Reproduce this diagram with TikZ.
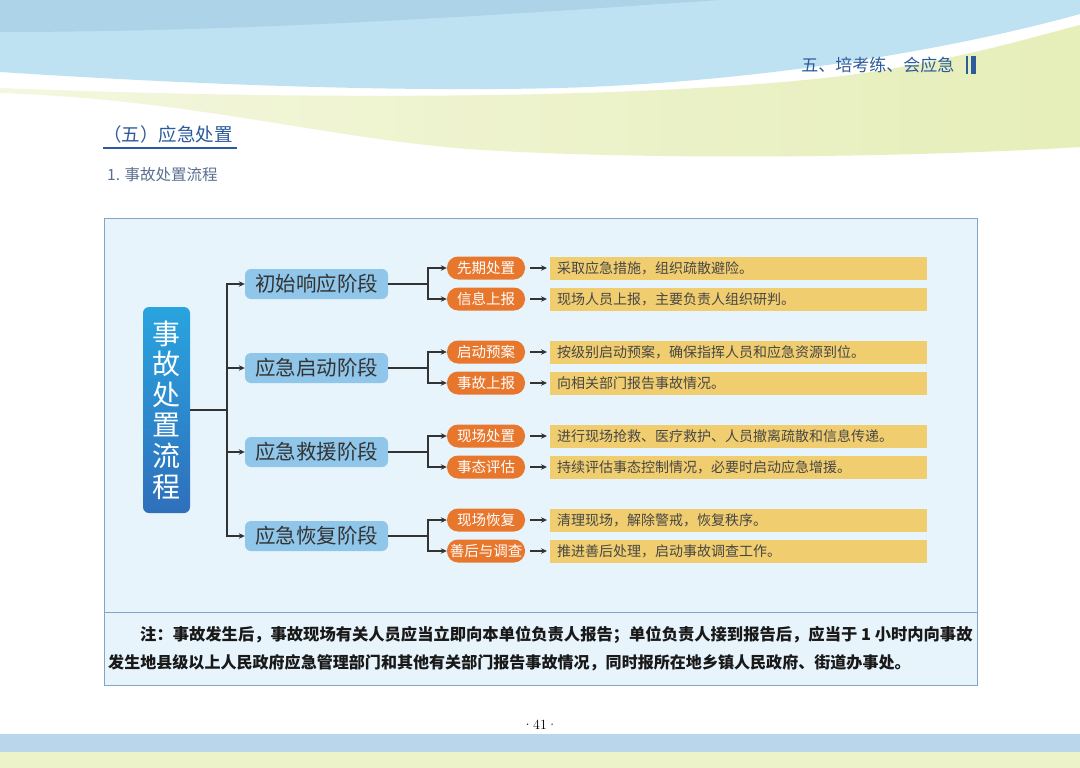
\documentclass[tikz,border=0pt]{standalone}
\usepackage{fontspec}
\newfontfamily\cjk{Noto Sans CJK SC}
\usetikzlibrary{arrows.meta}
\definecolor{bgblue}{HTML}{BEE2F1}
\definecolor{bgblue2}{HTML}{ADD3E9}
\definecolor{ylw1}{HTML}{F4F7DE}
\definecolor{ylw2}{HTML}{E6EEB9}
\definecolor{bandblue}{HTML}{B9D6EA}
\definecolor{bandylw}{HTML}{ECF3C8}
\definecolor{navy}{HTML}{2C5B9C}
\definecolor{subt}{HTML}{5A6F90}
\definecolor{boxfill}{HTML}{E8F4FC}
\definecolor{boxline}{HTML}{86A3C8}
\definecolor{rootA}{HTML}{29A4DF}
\definecolor{rootB}{HTML}{2F6FBB}
\definecolor{stagefill}{HTML}{8FC6E9}
\definecolor{orng}{HTML}{E8772E}
\definecolor{ybar}{HTML}{F0CD6E}
\definecolor{ink}{HTML}{333333}
\tikzset{
  rootbox/.style={rounded corners=6pt, top color=rootA, bottom color=rootB, minimum width=47pt, minimum height=206pt, inner sep=0pt, text=white, align=center, font=\cjk\fontsize{28}{30.6}\selectfont},
  stagebox/.style={rounded corners=6pt, fill=stagefill, minimum width=143pt, minimum height=30pt, inner sep=0pt, text=ink, font=\cjk\fontsize{20.5}{22}\selectfont},
  tagbox/.style={rounded corners=11pt, fill=orng, minimum width=78pt, minimum height=23pt, inner sep=0pt, text=white, font=\cjk\fontsize{14.5}{16}\selectfont},
  barbox/.style={fill=ybar, anchor=west, minimum height=23pt, text width=363pt, inner xsep=7pt, inner ysep=0pt, align=left, text=ink!90, font=\cjk\fontsize{14}{16}\selectfont},
  link/.style={draw=ink, line width=1.3pt},
  arr/.style={link, -{Stealth[length=6pt,width=5.5pt]}},
  notetext/.style={anchor=west, inner sep=0pt, text=black!90},
}
\begin{document}
\begin{tikzpicture}[x=1pt,y=-1pt]
\useasboundingbox (0,0) rectangle (1080,768);
% background
\fill[white] (0,0) rectangle (1080,768);
\fill[bgblue] (0,0) -- (1080,0) -- (1080,14) .. controls (950,50) and (760,82) .. (560,88) .. controls (400,92) and (200,85) .. (0,72) -- cycle;
\fill[bgblue2] (0,0) -- (0,32) .. controls (250,32) and (500,15) .. (720,0) -- cycle;
\shade[left color=ylw1, right color=ylw2] (0,88) .. controls (300,100) and (650,100) .. (850,75) .. controls (960,60) and (1040,35) .. (1080,25) -- (1080,147) .. controls (900,158) and (650,160) .. (482,150) .. controls (330,140) and (200,100) .. (0,93) -- cycle;
\fill[bandblue] (0,734) rectangle (1080,752);
\fill[bandylw] (0,752) rectangle (1080,768);
% header texts
\node[text=navy, font=\cjk\fontsize{17}{19}\selectfont, anchor=east] (hdr) at (958,65) {五、培考练、会应急};
\fill[navy] (966,56) rectangle (968,74);
\fill[navy] (970.5,56) rectangle (975.5,74);
\node[text=navy, font=\cjk\fontsize{18.5}{20}\selectfont, anchor=west, inner sep=0pt] (ttl) at (103,134) {（五）应急处置};
\draw[navy, line width=1.5pt] (103,148) -- (237,148);
\node[text=subt, font=\cjk\fontsize{15.5}{17}\selectfont, anchor=west, inner sep=0pt] (sub) at (107,175) {1. 事故处置流程};
% main box
\draw[boxline, fill=boxfill, line width=1pt] (104,218) rectangle (977,685);
\draw[boxline, line width=1pt] (104,612) -- (977,612);
% root
\node[rootbox] (root) at (166.5,410) {事\\故\\处\\置\\流\\程};
\coordinate (j) at (227,410);
\draw[link] (root.east) -- (j);
% stages
\node[stagebox] (s1) at (316.5,284) {初始响应阶段};
\node[stagebox] (s2) at (316.5,368) {应急启动阶段};
\node[stagebox] (s3) at (316.5,452) {应急救援阶段};
\node[stagebox] (s4) at (316.5,536) {应急恢复阶段};
\foreach \s in {s1,s2,s3,s4} \draw[arr] (j) |- (\s.west);
% tags and bars
\foreach \k/\ya/\yb/\ta/\tb/\ba/\bb in {
  1/268/299/先期处置/信息上报/采取应急措施，组织疏散避险。/现场人员上报，主要负责人组织研判。,
  2/352/383/启动预案/事故上报/按级别启动预案，确保指挥人员和应急资源到位。/向相关部门报告事故情况。,
  3/436/467/现场处置/事态评估/进行现场抢救、医疗救护、人员撤离疏散和信息传递。/持续评估事态控制情况，必要时启动应急增援。,
  4/520/551/现场恢复/善后与调查/清理现场，解除警戒，恢复秩序。/推进善后处理，启动事故调查工作。}{
  \node[tagbox] (a\k) at (486,\ya) {\ta};
  \node[tagbox] (b\k) at (486,\yb) {\tb};
  \node[barbox] (ya\k) at (550,\ya) {\ba};
  \node[barbox] (yb\k) at (550,\yb) {\bb};
  \coordinate (m\k) at (428,{(\ya+\yb)/2});
  \draw[link] (s\k.east) -- (s\k.east -| m\k) -- (m\k);
  \draw[arr] (s\k.east -| m\k) |- (a\k.west);
  \draw[arr] (s\k.east -| m\k) |- (b\k.west);
  \draw[arr, shorten <=5pt, shorten >=3pt] (a\k.east) -- (ya\k.west);
  \draw[arr, shorten <=5pt, shorten >=3pt] (b\k.east) -- (yb\k.west);
}
% note
\node[notetext, font=\cjk\bfseries\fontsize{16.3}{18}\selectfont] (n1) at (140,635) {注：事故发生后，事故现场有关人员应当立即向本单位负责人报告；单位负责人接到报告后，应当于 1 小时内向事故};
\node[notetext, font=\cjk\bfseries\fontsize{16.05}{18}\selectfont] (n2) at (108,663) {发生地县级以上人民政府应急管理部门和其他有关部门报告事故情况，同时报所在地乡镇人民政府、街道办事处。};
% page number
\node[font=\fontsize{14}{16}\selectfont] (pg) at (540,725) {·41·};
\end{tikzpicture}
\end{document}
